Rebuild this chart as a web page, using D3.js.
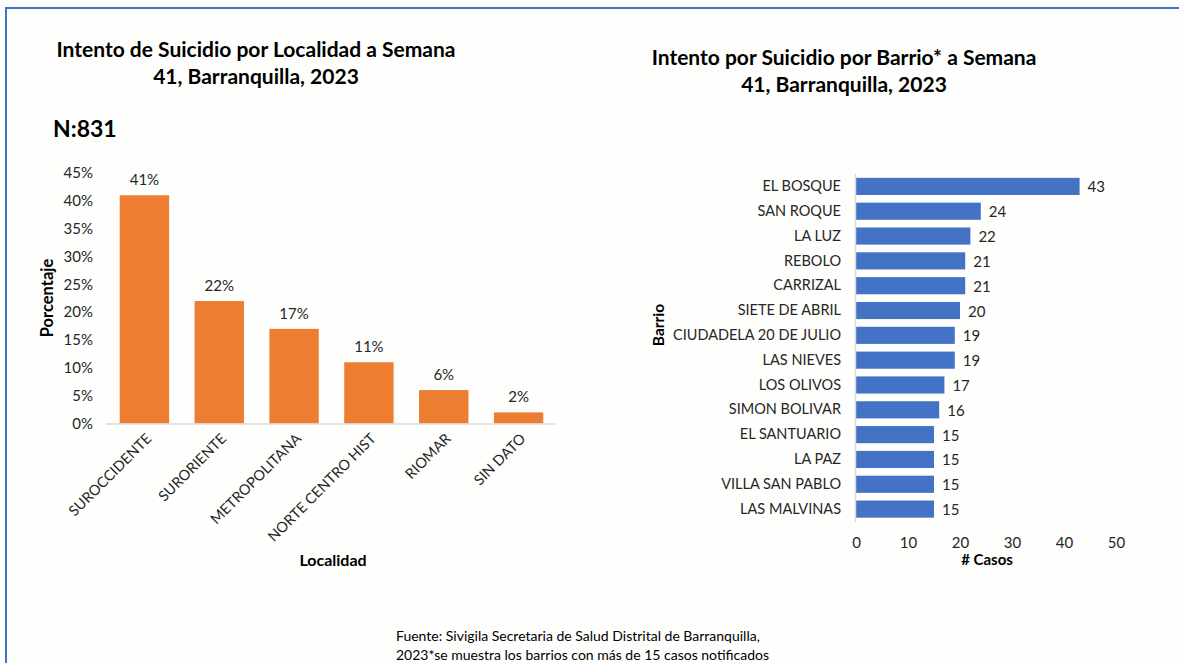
<!DOCTYPE html>
<html>
<head>
<meta charset="utf-8">
<script src="https://cdn.jsdelivr.net/npm/d3@7"></script>
<style>
  body { margin: 0; background: #fefefc; }
  svg { display: block; font-family: Lato, "Open Sans", sans-serif; }
</style>
</head>
<body>
<script>
// datos grafico localidad (porcentaje)
var localidades = ["SUROCCIDENTE", "SURORIENTE", "METROPOLITANA", "NORTE CENTRO HIST", "RIOMAR", "SIN DATO"];
var porcentajes = [41, 22, 17, 11, 6, 2];
var ticksPct = [0, 5, 10, 15, 20, 25, 30, 35, 40, 45];

// datos grafico barrio (# casos)
var barrios = ["EL BOSQUE", "SAN ROQUE", "LA LUZ", "REBOLO", "CARRIZAL", "SIETE DE ABRIL",
  "CIUDADELA 20 DE JULIO", "LAS NIEVES", "LOS OLIVOS", "SIMON BOLIVAR", "EL SANTUARIO",
  "LA PAZ", "VILLA SAN PABLO", "LAS MALVINAS"];
var casos = [43, 24, 22, 21, 21, 20, 19, 19, 17, 16, 15, 15, 15, 15];
var ticksCasos = [0, 10, 20, 30, 40, 50];

var w = 1179, h = 663;
var naranja = "#ed7d31", azul = "#4472c4", texto = "#262626", eje = "#d9d9d9";

var svg = d3.select("body").append("svg")
  .attr("width", w).attr("height", h);

svg.append("rect").attr("width", w).attr("height", h).attr("fill", "#fefefc");

// borde azul
svg.append("path")
  .attr("d", "M6," + h + " L6,8 L" + w + ",8")
  .attr("fill", "none").attr("stroke", azul).attr("stroke-width", 2);

/* ---------- grafico izquierdo ---------- */
var t1 = svg.append("text").attr("text-anchor", "middle")
  .attr("font-weight", "bold").attr("font-size", 21).attr("fill", "#000");
t1.append("tspan").attr("x", 256).attr("y", 57).text("Intento de Suicidio por Localidad a Semana");
t1.append("tspan").attr("x", 256).attr("y", 84).text("41, Barranquilla, 2023");

svg.append("text").attr("x", 53).attr("y", 137)
  .attr("font-weight", "bold").attr("font-size", 23).attr("fill", "#000").text("N:831");

var xL = d3.scaleBand().domain(localidades).range([107, 556]).paddingInner(0.34).paddingOuter(0.17);
var yL = d3.scaleLinear().domain([0, 45]).range([423.5, 173]);

svg.append("g").selectAll("rect")
  .data(porcentajes)
  .enter().append("rect")
  .attr("x", function(d, i) { return xL(localidades[i]); })
  .attr("width", xL.bandwidth())
  .attr("y", function(d) { return yL(d); })
  .attr("height", function(d) { return yL(0) - yL(d); })
  .attr("fill", naranja);

svg.append("g").selectAll("text")
  .data(porcentajes)
  .enter().append("text")
  .attr("x", function(d, i) { return xL(localidades[i]) + xL.bandwidth() / 2; })
  .attr("y", function(d) { return yL(d) - 10; })
  .attr("text-anchor", "middle").attr("font-size", 15).attr("fill", texto)
  .text(function(d) { return d + "%"; });

// eje y
var yAxisL = d3.axisLeft(yL).tickValues(ticksPct).tickSize(0).tickPadding(13)
  .tickFormat(function(d) { return d + "%"; });
var gy = svg.append("g").attr("transform", "translate(106,0)").call(yAxisL);
gy.select(".domain").remove();
gy.selectAll("text").attr("font-size", 15).attr("fill", texto).attr("font-family", "Lato, sans-serif");

// eje x
var xAxisL = d3.axisBottom(xL).tickSize(0).tickPadding(0);
var gx = svg.append("g").attr("transform", "translate(0," + yL(0) + ")").call(xAxisL);
gx.select(".domain").attr("stroke", eje).attr("stroke-width", 1.5).attr("d", "M106,0.5H555");
gx.selectAll("text")
  .attr("font-size", 14.5).attr("fill", texto).attr("font-family", "Lato, sans-serif")
  .attr("text-anchor", "end").attr("dy", 0).attr("y", 0)
  .attr("transform", "translate(8,16) rotate(-45)");

svg.append("text").attr("x", 333).attr("y", 566).attr("text-anchor", "middle")
  .attr("font-weight", "bold").attr("font-size", 16).attr("fill", "#000").text("Localidad");
svg.append("text").attr("transform", "translate(53,298) rotate(-90)").attr("text-anchor", "middle")
  .attr("font-weight", "bold").attr("font-size", 16.5).attr("fill", "#000").text("Porcentaje");

/* ---------- grafico derecho ---------- */
var t2 = svg.append("text").attr("text-anchor", "middle")
  .attr("font-weight", "bold").attr("font-size", 21).attr("fill", "#000");
t2.append("tspan").attr("x", 844).attr("y", 65).text("Intento por Suicidio por Barrio* a Semana");
t2.append("tspan").attr("x", 844).attr("y", 92).text("41, Barranquilla, 2023");

var xR = d3.scaleLinear().domain([0, 50]).range([856, 1116]);
var yR = d3.scaleBand().domain(barrios).range([174, 521.5]).paddingInner(0.31).paddingOuter(0.155);

svg.append("g").selectAll("rect")
  .data(casos)
  .enter().append("rect")
  .attr("x", xR(0))
  .attr("y", function(d, i) { return yR(barrios[i]); })
  .attr("width", function(d) { return xR(d) - xR(0); })
  .attr("height", yR.bandwidth())
  .attr("fill", azul);

svg.append("g").selectAll("text")
  .data(casos)
  .enter().append("text")
  .attr("x", function(d) { return xR(d) + 8; })
  .attr("y", function(d, i) { return yR(barrios[i]) + yR.bandwidth() / 2 + 6; })
  .attr("font-size", 15).attr("fill", texto)
  .text(function(d) { return d; });

var yAxisR = d3.axisLeft(yR).tickSize(0).tickPadding(15);
var gyr = svg.append("g").attr("transform", "translate(" + xR(0) + ",0)").call(yAxisR);
gyr.select(".domain").attr("stroke", eje).attr("stroke-width", 1.5).attr("d", "M-0.5,174V522");
gyr.selectAll("text").attr("font-size", 14.5).attr("fill", texto).attr("font-family", "Lato, sans-serif");

var xAxisR = d3.axisBottom(xR).tickValues(ticksCasos).tickSize(0).tickPadding(0);
var gxr = svg.append("g").attr("transform", "translate(0,537)").call(xAxisR);
gxr.select(".domain").remove();
gxr.selectAll("text").attr("font-size", 15).attr("fill", texto).attr("font-family", "Lato, sans-serif");

svg.append("text").attr("x", 987).attr("y", 565).attr("text-anchor", "middle")
  .attr("font-weight", "bold").attr("font-size", 15).attr("fill", "#000").text("# Casos");
svg.append("text").attr("transform", "translate(664,325) rotate(-90)").attr("text-anchor", "middle")
  .attr("font-weight", "bold").attr("font-size", 15.5).attr("fill", "#000").text("Barrio");

/* ---------- fuente ---------- */
var f = svg.append("text").attr("font-size", 14).attr("fill", "#000");
f.append("tspan").attr("x", 396).attr("y", 641).text("Fuente: Sivigila Secretaria de Salud Distrital de Barranquilla,");
f.append("tspan").attr("x", 396).attr("y", 660).text("2023*se muestra los barrios con más de 15 casos notificados");
</script>
</body>
</html>
